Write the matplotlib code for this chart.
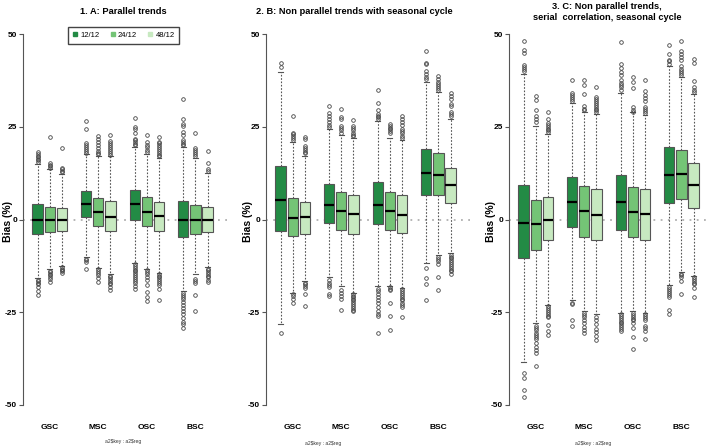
import matplotlib
matplotlib.use("Agg")
import matplotlib.pyplot as plt
from matplotlib.lines import Line2D

plt.rcParams['font.family'] = ['Liberation Sans', 'DejaVu Sans']

W, H = 709, 446

regions = ["GSC", "MSC", "OSC", "BSC"]
series = ["12/12", "24/12", "48/12"]
colors = ["#238b45", "#74c476", "#c7e9c0"]
titles = ["1. A: Parallel trends",
          "2. B: Non parallel trends with seasonal cycle",
          "3. C: Non parallel trends,\nserial  correlation, seasonal cycle"]
yticks = [-50, -25, 0, 25, 50]

# order: GSC(12,24,48), MSC(...), OSC(...), BSC(...)
# ---------------- Panel A ----------------
q1_A = [-3.9, -3.3, -3.1, 0.75, -1.7, -3.1, -0.1, -1.7, -3.0, -4.8, -3.9, -3.3]
med_A = [0.0, 0.0, 0.0, 4.2, 1.9, 0.75, 4.2, 1.9, 0.9, 0.0, 0.0, 0.0]
q3_A = [4.2, 3.5, 3.1, 7.8, 5.7, 5.0, 8.0, 6.0, 4.8, 4.9, 3.9, 3.3]
lo_A = [-15.8, -13.4, -12.5, -10.2, -13.0, -14.7, -11.6, -13.3, -14.3, -19.4, -14.8, -12.9]
hi_A = [15.0, 13.6, 12.3, 17.6, 17.1, 17.1, 19.6, 17.7, 16.5, 19.6, 16.7, 12.6]
out_A = [
    [15.6, 16.0, 16.4, 16.8, 17.2, 17.6, 18.2, -16.2, -16.6, -17.0, -17.5, -18.3, -19.2, -20.3],
    [14.0, 14.4, 14.8, 15.3, 22.3, -13.8, -14.2, -14.6, -15.0, -15.5, -16.0, -16.8],
    [12.8, 13.2, 13.6, 13.9, 19.4, -12.9, -13.3, -13.7, -14.0, -14.4],
    [18.0, 18.5, 19.0, 19.5, 20.0, 20.5, 24.3, 26.6, -10.6, -11.0, -11.5, -13.4],
    [17.6, 18.0, 18.5, 19.2, 20.0, 20.8, 21.6, 22.6, -13.4, -13.9, -14.4, -15.0, -15.8, -16.9],
    [17.5, 18.0, 18.5, 19.0, 19.5, 20.0, 20.5, 21.2, 22.8, -15.1, -15.5, -16.0, -16.5, -17.0, -17.5, -18.2, -19.0],
    [20.0, 20.4, 20.8, 21.3, 21.8, 23.4, 24.3, 25.0, 27.3, -12.0, -12.5, -13.0, -13.5, -14.0, -14.5, -15.0, -15.5, -16.0, -16.5, -17.2, -18.0, -18.8],
    [18.2, 18.8, 19.5, 20.2, 21.0, 22.8, -13.7, -14.2, -14.8, -15.4, -16.2, -17.6, -19.5, -20.8, -21.9],
    [17.0, 17.5, 18.0, 18.5, 19.0, 19.5, 20.0, 20.5, 21.0, 22.3, -14.7, -15.1, -15.5, -16.0, -16.5, -17.0, -17.6, -18.8, -21.7],
    [20.0, 20.4, 20.8, 21.3, 22.9, 23.5, 25.3, 25.8, 27.2, 32.5, -19.8, -20.3, -20.9, -21.5, -22.2, -23.0, -23.8, -24.6, -25.5, -26.5, -27.5, -28.3, -29.3],
    [17.2, 17.7, 18.2, 18.8, 19.2, 23.4, -16.0, -16.5, -17.0, -20.3, -24.8],
    [13.0, 13.5, 15.2, 18.5, -13.3, -13.7, -14.2, -14.6, -15.1, -15.6, -16.2, -16.9],
]

# ---------------- Panel B ----------------
q1_B = [-3.1, -4.5, -3.9, -0.9, -2.7, -4.0, -1.3, -2.9, -3.6, 6.5, 6.6, 4.5]
med_B = [5.3, 0.5, 0.8, 4.0, 2.2, 1.4, 4.0, 2.3, 1.3, 12.5, 12.1, 9.3]
q3_B = [14.4, 5.7, 4.7, 9.5, 7.4, 6.6, 10.0, 7.3, 6.5, 18.9, 18.0, 13.8]
lo_B = [-28.2, -19.7, -16.6, -15.5, -17.9, -19.8, -17.9, -17.9, -18.5, -11.6, -9.7, -9.0]
hi_B = [39.7, 21.0, 17.2, 24.4, 22.8, 21.9, 26.6, 21.9, 21.5, 37.2, 34.5, 27.1]
out_B = [
    [41.2, 42.1, -30.6],
    [21.5, 22.0, 22.5, 23.0, 23.3, 28.0, -20.2, -20.7, -21.3, -22.4],
    [17.8, 18.3, 18.8, 19.3, 19.7, 21.6, 22.2, -17.0, -17.5, -18.0, -18.4, -20.2, -23.3],
    [25.0, 25.6, 26.4, 27.0, 27.8, 28.7, 30.6, -16.4, -17.0, -17.6, -18.2, -20.0, -20.6],
    [23.4, 24.0, 24.6, 25.2, 27.0, 27.5, 29.7, -19.0, -19.8, -20.5, -21.5, -24.4],
    [22.4, 22.9, 23.4, 24.0, 24.6, 25.2, 26.9, -20.2, -20.6, -21.0, -21.4, -21.8, -22.2, -22.8, -23.3, -23.8, -24.3, -24.8],
    [27.0, 27.5, 28.0, 28.5, 29.4, 31.4, 34.8, -18.8, -19.4, -20.0, -20.8, -21.6, -22.6, -23.6, -24.6, -25.4, -26.0, -30.7],
    [23.3, 23.8, 24.3, 24.8, 25.3, 25.8, -18.3, -18.7, -19.1, -22.4, -26.0, -29.8],
    [22.1, 22.6, 23.2, 23.8, 24.4, 25.6, 26.4, 27.2, 27.8, -18.8, -19.3, -19.8, -20.3, -20.8, -21.3, -21.8, -22.4, -23.0, -23.7, -26.4],
    [37.8, 38.4, 39.2, 40.0, 41.8, 42.3, 45.3, -13.0, -15.7, -17.5, -21.7],
    [35.0, 35.5, 36.0, 36.6, 37.2, 37.8, 38.6, -10.2, -10.7, -11.2, -11.9, -15.5, -19.1],
    [27.8, 28.4, 29.0, 30.5, 31.2, 32.4, 33.2, 34.0, -9.5, -10.0, -10.5, -11.0, -11.5, -12.0, -12.5, -13.0, -13.5, -14.0, -14.8],
]

# ---------------- Panel C ----------------
q1_C = [-10.4, -8.2, -5.6, -2.0, -4.7, -5.5, -2.9, -4.8, -5.5, 4.5, 5.6, 3.1]
med_C = [-0.9, -1.25, 0.0, 4.7, 2.2, 1.3, 4.7, 2.0, 1.4, 12.1, 12.3, 9.4]
q3_C = [9.4, 5.3, 6.1, 11.5, 8.9, 8.1, 12.1, 8.8, 8.1, 19.5, 18.7, 15.2]
lo_C = [-38.5, -28.0, -23.0, -21.8, -24.8, -25.4, -25.1, -24.8, -25.3, -17.7, -14.2, -15.1]
hi_C = [39.2, 25.3, 23.0, 31.5, 28.9, 28.4, 34.2, 28.9, 28.1, 41.5, 38.5, 33.8]
out_C = [
    [40.0, 40.6, 41.2, 41.7, 45.0, 45.8, 48.1, -41.5, -42.6, -45.9, -47.8],
    [26.4, 27.2, 28.0, 29.6, 32.3, 33.3, -28.7, -29.3, -29.9, -30.5, -31.1, -31.7, -32.3, -33.2, -34.5, -35.3, -36.1, -39.4],
    [23.5, 24.0, 24.5, 25.0, 25.5, 26.0, 27.0, 29.1, -23.4, -23.9, -24.4, -24.9, -25.4, -25.9, -26.4, -28.4, -30.0, -31.1],
    [32.0, 32.5, 33.0, 33.5, 34.0, 37.5, -22.4, -22.8, -27.1, -28.7],
    [29.4, 29.9, 30.5, 33.8, 36.3, 37.6, -25.3, -25.8, -26.3, -27.0, -28.0, -29.0, -29.8, -30.6],
    [28.9, 29.4, 29.9, 30.4, 30.9, 31.4, 31.9, 32.4, 32.9, 35.8, -26.4, -27.2, -28.2, -29.6, -30.4, -31.5, -32.5],
    [35.0, 35.6, 36.2, 36.8, 37.6, 39.0, 39.8, 40.8, 41.8, 47.8, -25.5, -26.0, -26.5, -27.0, -27.5, -28.0, -28.5, -29.0, -29.5, -30.0],
    [29.1, 29.6, 30.3, 35.4, 37.2, 38.3, -25.2, -25.7, -26.2, -26.7, -27.2, -27.8, -29.3, -31.6, -34.8],
    [28.7, 29.2, 29.7, 30.2, 32.0, 32.8, 33.6, 34.7, 37.6, -25.6, -26.1, -26.6, -27.1, -28.6, -29.3, -30.0, -32.3],
    [42.0, 42.6, 43.0, 44.6, 47.0, -18.2, -18.7, -19.2, -19.8, -20.4, -20.9, -24.5, -25.5],
    [39.0, 39.5, 40.1, 40.7, 41.3, 43.0, 43.8, 44.6, 45.3, 48.1, -14.6, -15.0, -15.4, -16.6, -20.2],
    [34.4, 35.0, 35.8, 37.4, 42.1, 43.2, -15.5, -16.0, -16.5, -17.0, -17.5, -18.4, -20.9],
]

panels = [
    (q1_A, med_A, q3_A, lo_A, hi_A, out_A),
    (q1_B, med_B, q3_B, lo_B, hi_B, out_B),
    (q1_C, med_C, q3_C, lo_C, hi_C, out_C),
]

fig = plt.figure(figsize=(W / 100, H / 100), dpi=100)

ax_left_px = [23, 266, 509]
ax_w_px = 204
y_top_px, y_bot_px = 19.2, 419.8
title_pos = [(123, 11), (354, 11), (607, 12)]
ylab_x = [8, 248, 491]
xlab_pos = [(123, 441), (323, 443), (593, 443)]

for p, (q1, med, q3, lo, hi, outs) in enumerate(panels):
    ax = fig.add_axes([ax_left_px[p] / W, (H - y_bot_px) / H, ax_w_px / W, (y_bot_px - y_top_px) / H])
    stats = []
    positions = []
    for i in range(12):
        g, k = divmod(i, 3)
        positions.append(g + 1 + (k - 1) * 0.25)
        stats.append(dict(q1=q1[i], med=med[i], q3=q3[i], whislo=lo[i], whishi=hi[i], fliers=outs[i]))
    ax.axhline(0, color="#b0b0b0", lw=1.3, ls=(0, (1, 3)), zorder=0)
    bp = ax.bxp(stats, positions=positions, widths=0.21, patch_artist=True,
                capwidths=0.1, manage_ticks=False,
                boxprops=dict(edgecolor="#555555", linewidth=0.8),
                medianprops=dict(color="black", linewidth=1.6),
                whiskerprops=dict(color="#555555", linewidth=0.8, linestyle=(0, (1.5, 1.5))),
                capprops=dict(color="#555555", linewidth=0.8),
                flierprops=dict(marker="o", markersize=2.6, markerfacecolor="none",
                                markeredgecolor="#444444", markeredgewidth=0.6, linestyle="none"))
    for i, b in enumerate(bp["boxes"]):
        b.set_facecolor(colors[i % 3])
    ax.set_xlim(0.45, 4.65)
    ax.set_ylim(-54, 54)
    for s in ["top", "right", "bottom"]:
        ax.spines[s].set_visible(False)
    ax.spines["left"].set_bounds(-50, 50)
    ax.spines["left"].set_color("#555555")
    ax.spines["left"].set_linewidth(0.8)
    ax.set_yticks(yticks)
    ax.set_yticklabels([str(t) for t in yticks], fontsize=6, fontweight="bold")
    ax.tick_params(axis="y", length=3, width=0.8, color="#555555", pad=1.2)
    ax.set_xticks([1, 2, 3, 4])
    ax.set_xticklabels(regions, fontsize=6, fontweight="bold")
    ax.tick_params(axis="x", length=0, pad=3)
    ax.patch.set_alpha(0)
    fig.text(title_pos[p][0] / W, 1 - title_pos[p][1] / H, titles[p], ha="center", va="center",
             fontsize=6.7, fontweight="bold", linespacing=1.15)
    fig.text(ylab_x[p] / W, 1 - 222 / H, "Bias (%)", rotation=90, ha="center", va="center",
             fontsize=7.5, fontweight="bold")
    fig.text(xlab_pos[p][0] / W, 1 - xlab_pos[p][1] / H, "a2\\$key : a2\\$reg", ha="center", va="center",
             fontsize=3.6, color="#333333")

handles = [Line2D([], [], marker="s", ms=2.8, ls="none", color=c) for c in colors]
fig.legend(handles, series, loc="center", bbox_to_anchor=(123.4 / W, 1 - 35.4 / H), ncol=3,
           fontsize=5.5, frameon=True, fancybox=False, edgecolor="#444444", framealpha=1,
           handletextpad=0.3, columnspacing=1.3, handlelength=0.8, borderpad=0.6)

fig.savefig("out.png", dpi=100)
